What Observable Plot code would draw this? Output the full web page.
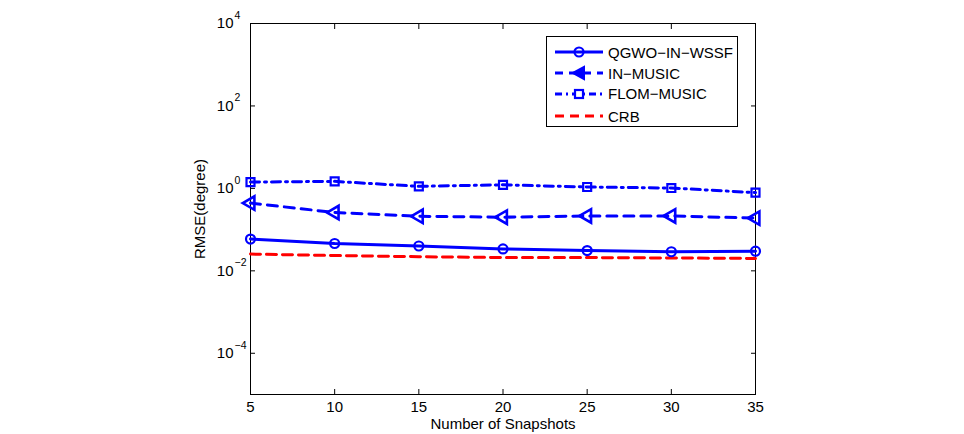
<!DOCTYPE html>
<html><head><meta charset="utf-8">
<script src="https://cdn.jsdelivr.net/npm/d3@7"></script>
<script src="https://cdn.jsdelivr.net/npm/@observablehq/plot@0.6"></script>
<style>
body{margin:0;background:#fff;font-family:"Liberation Sans",Arial,sans-serif;}
#wrap{position:relative;width:964px;height:434px;}
#legend{position:absolute;left:546px;top:36px;width:192px;height:91px;border:1px solid #000;background:#fff;box-sizing:border-box;}
#legend .row{position:absolute;left:0;height:20px;display:flex;align-items:center;}
#legend .row span{font-size:15px;margin-left:5px;color:#000;}
</style></head>
<body><div id="wrap"></div>
<script>
const snapshots = [5, 10, 15, 20, 25, 30, 35];
const qgwo    = [0.059, 0.046, 0.040, 0.034, 0.031, 0.029, 0.030];
const inMusic = [0.44, 0.26, 0.21, 0.20, 0.215, 0.215, 0.19];
const flom    = [1.42, 1.48, 1.12, 1.22, 1.08, 1.02, 0.79];
const crb     = [0.0255, 0.0235, 0.022, 0.021, 0.021, 0.0205, 0.020];
const xTicks = [5, 10, 15, 20, 25, 30, 35];
const yTicks = [1e-4, 1e-2, 1, 1e2, 1e4];
const names = ["QGWO−IN−WSSF", "IN−MUSIC", "FLOM−MUSIC", "CRB"];

const rows = (vals) => snapshots.map((x, i) => ({x, y: vals[i]}));
const dQ = rows(qgwo), dI = rows(inMusic), dF = rows(flom), dC = rows(crb);
const blue = "#0000ff", red = "#ff0000";
const font = "Liberation Sans, Arial, sans-serif";

const chart = Plot.plot({
  width: 964, height: 434,
  marginLeft: 250, marginRight: 209, marginTop: 23, marginBottom: 40,
  style: {fontFamily: font, fontSize: "15px", background: "#fff", color: "#000"},
  x: {domain: [5, 35]},
  y: {type: "log", domain: [1e-5, 1e4]},
  marks: [
    Plot.frame({stroke: "#000", strokeWidth: 1}),
    // inward ticks
    Plot.axisX(xTicks, {anchor: "bottom", tickSize: -5, text: null, label: null}),
    Plot.axisX(xTicks, {anchor: "top", tickSize: -5, text: null, label: null}),
    Plot.axisY(yTicks, {anchor: "left", tickSize: -5, text: null, label: null}),
    Plot.axisY(yTicks, {anchor: "right", tickSize: -5, text: null, label: null}),
    // labels
    Plot.axisX(xTicks, {anchor: "bottom", tickSize: 0, tickPadding: 7, fontSize: 15,
      label: "Number of Snapshots", labelAnchor: "center", labelArrow: "none", labelOffset: 34}),
    Plot.axisY(yTicks, {anchor: "left", tickSize: 0, tickPadding: 17, fontSize: 15,
      tickFormat: () => "10", label: "RMSE(degree)", labelAnchor: "center", labelArrow: "none", labelOffset: 56}),
    Plot.text(yTicks, {y: d => d, frameAnchor: "left", dx: -16, dy: -8, textAnchor: "start",
      fontSize: 10.5, text: d => String(Math.round(Math.log10(d))).replace("-", "−")}),
    // series
    Plot.line(dC, {x: "x", y: "y", stroke: red, strokeWidth: 3, strokeDasharray: "10,6"}),
    Plot.line(dF, {x: "x", y: "y", stroke: blue, strokeWidth: 3, strokeDasharray: "9,5,2,5"}),
    Plot.line(dI, {x: "x", y: "y", stroke: blue, strokeWidth: 3, strokeDasharray: "10,7"}),
    Plot.line(dQ, {x: "x", y: "y", stroke: blue, strokeWidth: 3}),
    Plot.dot(dQ, {x: "x", y: "y", symbol: "circle", r: 4.5, stroke: blue, strokeWidth: 2.2, fill: "none"}),
    Plot.dot(dI, {x: "x", y: "y", symbol: "triangle", rotate: -90, r: 5, stroke: blue, strokeWidth: 2.6, fill: "none"}),
    Plot.dot(dF, {x: "x", y: "y", symbol: "square", r: 4.5, stroke: blue, strokeWidth: 2.2, fill: "none"})
  ]
});
const wrap = document.getElementById("wrap");
wrap.appendChild(chart);

// legend
const legend = document.createElement("div");
legend.id = "legend";
const styles = [
  {stroke: blue, dash: null, sym: "circle"},
  {stroke: blue, dash: "8,6", sym: "triangle"},
  {stroke: blue, dash: "7,4,2,4", sym: "square"},
  {stroke: red, dash: "9,6", sym: null}
];
const tops = [5, 26, 46.5, 69];
names.forEach((n, i) => {
  const s = styles[i];
  const row = document.createElement("div");
  row.className = "row";
  row.style.top = tops[i] + "px";
  const svg = d3.create("svg").attr("width", 56).attr("height", 20);
  svg.append("line").attr("x1", 8).attr("x2", 56).attr("y1", 10).attr("y2", 10)
    .attr("stroke", s.stroke).attr("stroke-width", 3).attr("stroke-dasharray", s.dash);
  if (s.sym === "circle") svg.append("circle").attr("cx", 32).attr("cy", 10).attr("r", 4.5).attr("fill", "none").attr("stroke", blue).attr("stroke-width", 2.2);
  if (s.sym === "square") svg.append("rect").attr("x", 28).attr("y", 6).attr("width", 8).attr("height", 8).attr("fill", "#fff").attr("stroke", blue).attr("stroke-width", 2.2);
  if (s.sym === "triangle") svg.append("path").attr("d", "M26,10L37,4L37,16Z").attr("fill", blue).attr("stroke", blue).attr("stroke-width", 2);
  row.appendChild(svg.node());
  const t = document.createElement("span");
  t.textContent = n;
  row.appendChild(t);
  legend.appendChild(row);
});
wrap.appendChild(legend);
</script></body></html>
